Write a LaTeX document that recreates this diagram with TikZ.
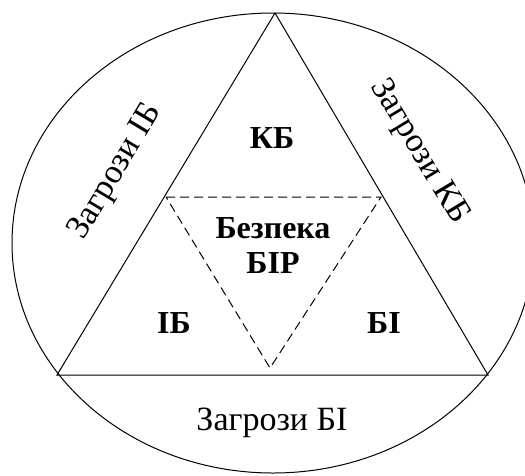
\documentclass[tikz,border=0pt]{standalone}
\usepackage{fontspec}
\setmainfont{Liberation Serif}
\usepackage{tikz}
\usetikzlibrary{shapes.geometric,positioning}

\begin{document}
\begin{tikzpicture}[x=1pt,y=-1pt, line width=1pt,
    every node/.style={inner sep=0pt},
    zone/.style={font=\fontsize{32}{35}\selectfont\bfseries, align=center},
    threat/.style={font=\fontsize{34}{38}\selectfont}]
      \useasboundingbox (0,0) rectangle (525,475);
      % outer ellipse and triangle
      \node[draw, ellipse, minimum width=522pt, minimum height=460pt] (E) at (273,243) {};
      \coordinate (T) at (275,13);
      \coordinate (L) at (57,375);
      \coordinate (R) at (488,375);
      \draw (T) -- (L) -- (R) -- cycle;
      % inner dashed triangle
      \coordinate (DL) at (166,197);
      \coordinate (DR) at (381,197);
      \coordinate (DB) at (270,368);
      \draw[dash pattern=on 9pt off 5pt] (DL) -- (DR) -- (DB) -- cycle;
      % labels
      \node[zone] (KB) at (272,138) {КБ};
      \node[zone] (IB) at (174,323) {ІБ};
      \node[zone] (BI) at (384,323) {БІ};
      \node[zone] (BIR) at (273,246) {Безпека\\БІР};
      \node[threat, rotate=59] (ZIB) at (116,172) {Загрози ІБ};
      \node[threat, rotate=-59] (ZKB) at (419,152) {Загрози КБ};
      \node[threat] (ZBI) at (272,423) {Загрози БІ};
    \end{tikzpicture}
\end{document}
